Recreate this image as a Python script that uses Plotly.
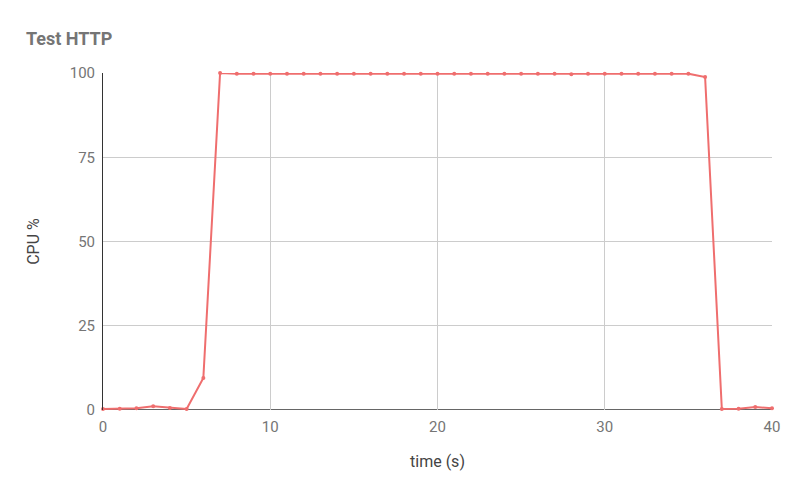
import plotly.graph_objects as go

time_s = list(range(0, 41))
cpu = [0.3, 0.4, 0.5, 1.1, 0.6, 0.3, 9.5, 100, 99.8, 99.8, 99.8, 99.8, 99.8, 99.8, 99.8,
       99.8, 99.8, 99.8, 99.8, 99.8, 99.8, 99.8, 99.8, 99.8, 99.8, 99.8, 99.8, 99.8,
       99.6, 99.8, 99.8, 99.8, 99.8, 99.8, 99.8, 99.8, 98.8, 0.3, 0.4, 0.9, 0.5]

x_ticks = [0, 10, 20, 30, 40]
y_ticks = [0, 25, 50, 75, 100]

fig = go.Figure()
fig.add_trace(go.Scatter(
    x=time_s, y=cpu, mode="lines+markers",
    line=dict(color="#ef6e6e", width=2),
    marker=dict(color="#ef6e6e", size=4),
    showlegend=False, cliponaxis=False,
))

fig.update_layout(
    width=800, height=500,
    paper_bgcolor="white", plot_bgcolor="white",
    margin=dict(l=95, r=36, t=65, b=98),
    font=dict(family="Roboto", color="#757575", size=15),
    title=dict(text="<b>Test HTTP</b>", x=0.0225, xanchor="left", y=0.938, yanchor="middle",
               font=dict(family="Roboto", size=18, color="#757575")),
)
fig.update_xaxes(
    range=[0, 40], tickvals=x_ticks, showgrid=True, gridcolor="#cccccc", gridwidth=1,
    zeroline=False, showline=False, ticks="", tickfont=dict(size=15, color="#757575"),
    ticklabelstandoff=6, automargin=False,
    title=dict(text="time (s)", font=dict(size=16, color="#444444"), standoff=20),
)
fig.update_yaxes(
    range=[0, 100], tickvals=y_ticks, showgrid=True, gridcolor="#cccccc", gridwidth=1,
    zeroline=False, showline=True, linecolor="#333333", linewidth=1, ticks="",
    tickfont=dict(size=15, color="#757575"), ticklabelstandoff=4, automargin=False,
    title=dict(text="CPU %", font=dict(size=16, color="#444444"), standoff=26),
)
fig.add_hline(y=0, line=dict(color="#333333", width=1.5), layer="below")
fig.write_html("out.html")
